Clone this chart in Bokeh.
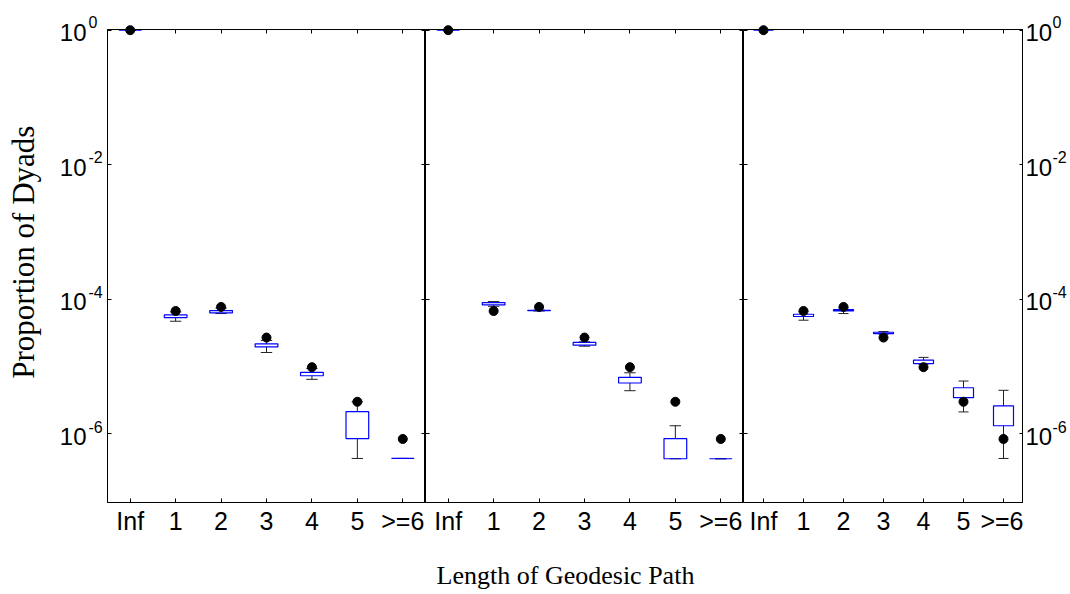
import math
from bokeh.plotting import figure
from bokeh.models import (Range1d, FixedTicker, LogAxis, LinearAxis, ColumnDataSource,
                          CustomJSTickFormatter)
from bokeh.transform import dodge
from bokeh.layouts import row, column
from bokeh.embed import file_html
from bokeh.resources import INLINE
from bokeh.core.properties import value

# ---------------- data ----------------
categories = ["Inf", "1", "2", "3", "4", "5", ">=6"]
observed = [0.99983, 6.7e-5, 7.7e-5, 2.7e-5, 9.8e-6, 3.0e-6, 8.4e-7]

panel1_low = [0.9998, 4.72e-5, 6.14e-5, 1.62e-5, 6.46e-6, 4.31e-7, 4.31e-7]
panel1_q1 = [0.9998, 5.36e-5, 6.27e-5, 1.96e-5, 7.31e-6, 8.51e-7, 4.31e-7]
panel1_q3 = [0.9998, 5.85e-5, 6.81e-5, 2.18e-5, 8.20e-6, 2.14e-6, 4.31e-7]
panel1_high = [0.9998, 6.5e-5, 7.4e-5, 2.45e-5, 9.4e-6, 3.0e-6, 4.31e-7]

panel2_low = [0.9998, 7.87e-5, 6.70e-5, 2.01e-5, 4.38e-6, 4.27e-7, 4.27e-7]
panel2_q1 = [0.9998, 8.24e-5, 6.78e-5, 2.08e-5, 5.70e-6, 4.27e-7, 4.27e-7]
panel2_q3 = [0.9998, 8.93e-5, 6.84e-5, 2.29e-5, 6.92e-6, 8.51e-7, 4.27e-7]
panel2_high = [0.9998, 9.25e-5, 6.90e-5, 2.33e-5, 8.09e-6, 1.32e-6, 4.27e-7]

panel3_low = [0.9998, 4.89e-5, 6.14e-5, 3.03e-5, 1.09e-5, 2.12e-6, 4.31e-7]
panel3_q1 = [0.9998, 5.55e-5, 6.71e-5, 3.10e-5, 1.11e-5, 3.45e-6, 1.32e-6]
panel3_q3 = [0.9998, 6.00e-5, 7.03e-5, 3.24e-5, 1.25e-5, 4.85e-6, 2.60e-6]
panel3_high = [0.9998, 6.6e-5, 7.5e-5, 3.32e-5, 1.37e-5, 6.10e-6, 4.44e-6]

ytick_values = [1.0, 1e-2, 1e-4, 1e-6]
ytick_base = ["10", "10", "10", "10"]
ytick_exponents = ["0", "-2", "-4", "-6"]

x_title = "Length of Geodesic Path"
y_title = "Proportion of Dyads"

# ---------------- layout constants ----------------
Y_MAX_LOG = 0.01
Y_MIN_LOG = -7.02
TOP = 29
FRAME_H = 474
BOTTOM = 34
H = TOP + FRAME_H + BOTTOM
TOTAL_H = 593
PX_DEC = FRAME_H / (Y_MAX_LOG - Y_MIN_LOG)
LEFT_W = 107
RIGHT_W = 46
PANEL_W = [318, 318, 280]
SANS = "Liberation Sans"
SERIF = "Liberation Serif"

xs = list(range(1, len(categories) + 1))


def style_axis(ax, show_labels=False):
    ax.major_tick_in = 4
    ax.major_tick_out = 0
    ax.minor_tick_line_color = None
    ax.axis_line_color = "black"
    ax.axis_line_width = 1
    ax.major_tick_line_color = "black"
    ax.major_tick_line_width = 1
    if show_labels:
        ax.major_label_text_font = SANS
        ax.major_label_text_font_size = "25px"
        ax.major_label_text_color = "black"
        ax.major_label_standoff = 4
    else:
        ax.formatter = CustomJSTickFormatter(code="return '';")
        ax.major_label_text_font_size = "1px"
        ax.major_label_text_alpha = 0
        ax.major_label_standoff = 0


def make_panel(w, lo, q1, q3, hi):
    p = figure(width=w, height=H, x_range=Range1d(0.5, 7.5),
               y_range=Range1d(10 ** Y_MIN_LOG, 10 ** Y_MAX_LOG),
               y_axis_type="log", output_backend="svg", toolbar_location=None,
               min_border_left=0, min_border_right=0,
               min_border_top=TOP, min_border_bottom=BOTTOM)
    p.background_fill_color = "white"
    p.border_fill_color = "white"
    p.xgrid.visible = False
    p.ygrid.visible = False
    p.outline_line_color = "black"
    p.outline_line_width = 1

    xa = p.xaxis[0]
    xa.ticker = FixedTicker(ticks=xs)
    xa.major_label_overrides = {x: c for x, c in zip(xs, categories)}
    style_axis(xa, show_labels=True)
    ya = p.yaxis[0]
    ya.ticker = FixedTicker(ticks=ytick_values)
    style_axis(ya)

    top_ax = LinearAxis(ticker=FixedTicker(ticks=xs))
    style_axis(top_ax)
    p.add_layout(top_ax, "above")
    right_ax = LogAxis(ticker=FixedTicker(ticks=ytick_values))
    style_axis(right_ax)
    p.add_layout(right_ax, "right")

    src = ColumnDataSource(dict(x=xs, lo=lo, q1=q1, q3=q3, hi=hi, obs=observed))
    p.segment(x0="x", y0="q3", x1="x", y1="hi", source=src, line_color="#222222", line_width=1)
    p.segment(x0="x", y0="q1", x1="x", y1="lo", source=src, line_color="#222222", line_width=1)
    p.segment(x0=dodge("x", -0.125), y0="hi", x1=dodge("x", 0.125), y1="hi", source=src,
              line_color="#222222", line_width=1)
    p.segment(x0=dodge("x", -0.125), y0="lo", x1=dodge("x", 0.125), y1="lo", source=src,
              line_color="#222222", line_width=1)
    p.vbar(x="x", width=0.5, bottom="q1", top="q3", source=src,
           fill_color=None, line_color="#0000ff", line_width=1.2)
    p.scatter(x="x", y="obs", source=src, size=9, color="black", level="overlay")
    return p


p1 = make_panel(PANEL_W[0], panel1_low, panel1_q1, panel1_q3, panel1_high)
p2 = make_panel(PANEL_W[1], panel2_low, panel2_q1, panel2_q3, panel2_high)
p3 = make_panel(PANEL_W[2], panel3_low, panel3_q1, panel3_q3, panel3_high)


def make_strip(w):
    # full-height strip; its log scale matches the panels' scale pixel for pixel
    f = figure(width=w, height=TOTAL_H, x_range=Range1d(0, w),
               y_range=Range1d(10 ** (Y_MIN_LOG - (TOTAL_H - TOP - FRAME_H) / PX_DEC),
                               10 ** (Y_MAX_LOG + TOP / PX_DEC)),
               y_axis_type="log", x_axis_location=None, y_axis_location=None,
               output_backend="svg", toolbar_location=None, min_border=0)
    f.grid.visible = False
    f.outline_line_color = None
    f.background_fill_color = "white"
    f.border_fill_color = "white"
    return f


def tick_labels(f, x_base, align_base, x_exp):
    src = ColumnDataSource(dict(y=ytick_values, base=ytick_base, exp=ytick_exponents))
    f.text(x=x_base, y="y", text="base", source=src, text_font=value(SANS),
           text_font_size="24px", text_align=align_base, text_baseline="middle",
           y_offset=2, text_color="black")
    f.text(x=x_exp, y="y", text="exp", source=src, text_font=value(SANS),
           text_font_size="16px", text_align="left", text_baseline="middle",
           y_offset=-8, text_color="black")


fL = make_strip(LEFT_W)
tick_labels(fL, 86, "right", 88)
fL.text(x=[23], y=[10 ** (-(251 - TOP) / PX_DEC)], text=[y_title], angle=math.pi / 2,
        text_font=value(SERIF), text_font_size="31px", text_align="center",
        text_baseline="middle", text_color="black")

fR = make_strip(RIGHT_W)
tick_labels(fR, 2, "left", 29)

PW = sum(PANEL_W)
BH = TOTAL_H - H
fB = figure(width=PW, height=BH, x_range=Range1d(0, PW), y_range=Range1d(BH, 0),
            x_axis_location=None, y_axis_location=None, output_backend="svg",
            toolbar_location=None, min_border=0)
fB.grid.visible = False
fB.outline_line_color = None
fB.text(x=[PW / 2], y=[575 - H], text=[x_title], text_font=value(SERIF),
        text_font_size="26px", text_align="center", text_baseline="middle", text_color="black")

layout = row(fL, column(row(p1, p2, p3), fB), fR)

open("out.html", "w").write(file_html(layout, INLINE))
